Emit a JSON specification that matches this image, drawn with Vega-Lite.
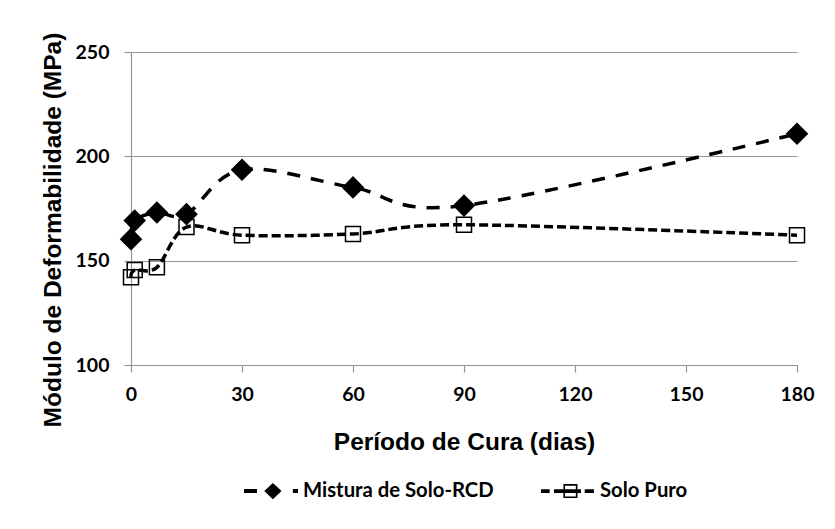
{
  "$schema": "https://vega.github.io/schema/vega-lite/v6.json",
  "width": 666,
  "height": 313,
  "autosize": "none",
  "padding": {"left": 131, "top": 52, "right": 38, "bottom": 164},
  "background": "white",
  "config": {
    "view": {"stroke": null},
    "axis": {
      "domainColor": "#959595",
      "tickColor": "#959595",
      "gridColor": "#959595",
      "domainWidth": 1.2,
      "tickWidth": 1.2,
      "gridWidth": 1.2,
      "tickSize": 7,
      "labelFont": "Lato",
      "labelFontSize": 19.5,
      "labelFontWeight": "bold",
      "labelColor": "black",
      "titleFont": "Liberation Sans",
      "titleFontSize": 24.5,
      "titleFontWeight": "bold",
      "titleColor": "black"
    }
  },
  "data": {
    "values": [
      {"serie": "Mistura de Solo-RCD", "dias": 0, "mpa": 160.3},
      {"serie": "Mistura de Solo-RCD", "dias": 1, "mpa": 169.2},
      {"serie": "Mistura de Solo-RCD", "dias": 7, "mpa": 173.1},
      {"serie": "Mistura de Solo-RCD", "dias": 15, "mpa": 172.3},
      {"serie": "Mistura de Solo-RCD", "dias": 30, "mpa": 193.6},
      {"serie": "Mistura de Solo-RCD", "dias": 60, "mpa": 185.1},
      {"serie": "Mistura de Solo-RCD", "dias": 90, "mpa": 176.4},
      {"serie": "Mistura de Solo-RCD", "dias": 180, "mpa": 210.8},
      {"serie": "Solo Puro", "dias": 0, "mpa": 142.0},
      {"serie": "Solo Puro", "dias": 1, "mpa": 145.5},
      {"serie": "Solo Puro", "dias": 7, "mpa": 146.8},
      {"serie": "Solo Puro", "dias": 15, "mpa": 166.1},
      {"serie": "Solo Puro", "dias": 30, "mpa": 162.2},
      {"serie": "Solo Puro", "dias": 60, "mpa": 162.8},
      {"serie": "Solo Puro", "dias": 90, "mpa": 167.2},
      {"serie": "Solo Puro", "dias": 180, "mpa": 162.2}
    ]
  },
  "encoding": {
    "x": {
      "field": "dias",
      "type": "quantitative",
      "scale": {"domain": [0, 180], "nice": false, "zero": false},
      "axis": {
        "values": [0, 30, 60, 90, 120, 150, 180],
        "title": "Período de Cura (dias)",
        "grid": false,
        "labelPadding": 13.5,
        "titlePadding": 26,
        "labelFlush": false
      }
    },
    "y": {
      "field": "mpa",
      "type": "quantitative",
      "scale": {"domain": [100, 250], "nice": false, "zero": false},
      "axis": {
        "values": [100, 150, 200, 250],
        "title": "Módulo de Deformabilidade (MPa)",
        "grid": true,
        "labelPadding": 15,
        "titlePadding": 10,
        "titleY": 177.5
      }
    }
  },
  "layer": [
    {
      "mark": {"type": "point", "filled": true, "opacity": 0, "color": "black"},
      "encoding": {
        "shape": {
          "field": "serie",
          "type": "nominal",
          "scale": {
            "domain": ["Mistura de Solo-RCD", "Solo Puro"],
            "range": [
              "M-1,-0.075L-0.52,-0.075L-0.52,0.075L-1,0.075Z M0.07,-0.3L0.39,0L0.07,0.3L-0.25,0Z M0.81,-0.075L1,-0.075L1,0.075L0.81,0.075Z",
              "M-1,-0.07L-0.68,-0.07L-0.68,0.07L-1,0.07Z M-0.52,-0.07L0.48,-0.07L0.48,0.07L-0.52,0.07Z M0.62,-0.07L0.96,-0.07L0.96,0.07L0.62,0.07Z M-0.17,-0.26L0.35,-0.26L0.35,0.26L-0.17,0.26Z M-0.11,-0.2L-0.11,0.2L0.29,0.2L0.29,-0.2Z"
            ]
          },
          "legend": {
            "orient": "none",
            "legendX": 113,
            "legendY": 411.7,
            "direction": "horizontal",
            "title": null,
            "labelFont": "Lato",
            "labelFontSize": 20.3,
            "labelFontWeight": "bold",
            "labelColor": "black",
            "labelLimit": 400,
            "symbolSize": 2916,
            "labelOffset": 5,
            "columnPadding": 47,
            "symbolFillColor": "black",
            "symbolStrokeColor": "black",
            "symbolStrokeWidth": 0,
            "symbolOpacity": 1
          }
        }
      }
    },
    {
      "mark": {"type": "line", "interpolate": "cardinal", "strokeWidth": 3.5, "color": "black"},
      "encoding": {
        "detail": {"field": "serie", "type": "nominal"},
        "strokeDash": {
          "condition": {"test": "datum.serie === 'Solo Puro'", "value": [9, 4]},
          "value": [13, 11]
        }
      }
    },
    {
      "mark": {"type": "point", "filled": true, "stroke": "black", "strokeWidth": 1.5, "opacity": 1},
      "encoding": {
        "shape": {
          "field": "serie",
          "type": "nominal",
          "scale": {"domain": ["Mistura de Solo-RCD", "Solo Puro"], "range": ["diamond", "square"]},
          "legend": null
        },
        "fill": {
          "condition": {"test": "datum.serie === 'Solo Puro'", "value": "transparent"},
          "value": "black"
        },
        "size": {
          "condition": {"test": "datum.serie === 'Solo Puro'", "value": 225},
          "value": 420
        }
      }
    }
  ],
  "resolve": {"scale": {"shape": "independent"}, "legend": {"shape": "independent"}}
}
